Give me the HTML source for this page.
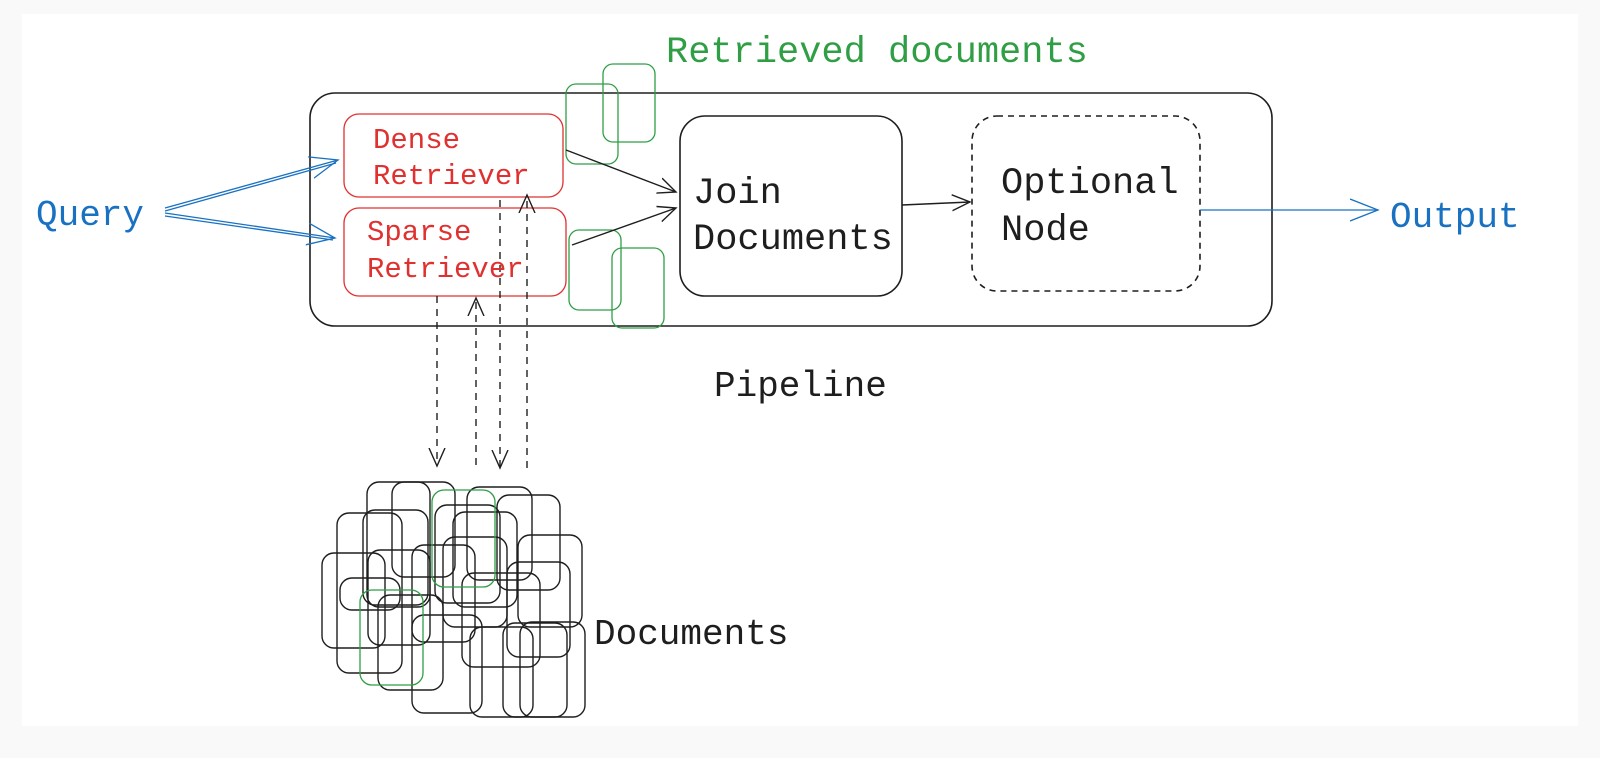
<!DOCTYPE html>
<html><head><style>
html,body{margin:0;padding:0;background:#f9f9f9;}
svg{display:block}
text{font-family:"Liberation Mono","DejaVu Sans Mono",monospace;}
</style></head><body>
<svg width="1600" height="758" viewBox="0 0 1600 758" xmlns="http://www.w3.org/2000/svg">
<rect x="22" y="14" width="1556" height="712" fill="#fff"/>
<defs>
<marker id="ab" viewBox="0 0 20 20" refX="18" refY="10" markerWidth="20" markerHeight="20" markerUnits="userSpaceOnUse" orient="auto"><path d="M0,2 L18,10 L0,18" fill="none" stroke="#1e1e1e" stroke-width="1.4"/></marker>
<marker id="abl" viewBox="0 0 30 30" refX="28" refY="15" markerWidth="30" markerHeight="30" markerUnits="userSpaceOnUse" orient="auto"><path d="M0,4 L28,15 L0,26" fill="none" stroke="#1971c2" stroke-width="1.3"/></marker>
</defs>
<g fill="none" stroke="#1e1e1e" stroke-width="1.6">
<rect x="310" y="93" width="962" height="233" rx="25"/>
<rect x="680" y="116" width="222" height="180" rx="25"/>
<rect x="972" y="116" width="228" height="175" rx="25" stroke-dasharray="6 5"/>
</g>
<g fill="none" stroke="#e03131" stroke-width="1.3">
<rect x="344" y="114" width="219" height="83" rx="15"/>
<rect x="344" y="208" width="222" height="88" rx="15"/>
</g>
<g fill="none" stroke="#2f9e44" stroke-width="1.3">
<rect x="566" y="84" width="52" height="80" rx="10"/>
<rect x="603" y="64" width="52" height="78" rx="10"/>
<rect x="569" y="230" width="52" height="80" rx="10"/>
<rect x="612" y="248" width="52" height="80" rx="10"/>
</g>
<g stroke="#1e1e1e" stroke-width="1.4" fill="none">
<line x1="566" y1="150" x2="676" y2="192" marker-end="url(#ab)"/>
<line x1="572" y1="245" x2="676" y2="208" marker-end="url(#ab)"/>
<line x1="902" y1="205" x2="970" y2="202" marker-end="url(#ab)"/>
<g stroke-dasharray="7 6">
<line x1="437" y1="296" x2="437" y2="466" marker-end="url(#ab)"/>
<line x1="476" y1="465" x2="476" y2="298" marker-end="url(#ab)"/>
<line x1="500" y1="200" x2="500" y2="468" marker-end="url(#ab)"/>
<line x1="527" y1="468" x2="527" y2="195" marker-end="url(#ab)"/>
</g>
</g>
<g stroke="#1971c2" stroke-width="1.3" fill="none">
<line x1="165" y1="208" x2="338" y2="160" marker-end="url(#abl)"/>
<line x1="165" y1="211" x2="336" y2="163"/>
<line x1="165" y1="213" x2="335" y2="238" marker-end="url(#abl)"/>
<line x1="165" y1="216" x2="333" y2="240"/>
<line x1="1200" y1="210" x2="1378" y2="210" marker-end="url(#abl)"/>
</g>
<g fill="none" stroke="#1e1e1e" stroke-width="1.4">
<rect x="367" y="482" width="63" height="125" rx="12"/>
<rect x="392" y="482" width="63" height="95" rx="12"/>
<rect x="337" y="513" width="65" height="160" rx="12"/>
<rect x="363" y="510" width="65" height="95" rx="12"/>
<rect x="322" y="553" width="63" height="95" rx="12"/>
<rect x="340" y="578" width="60" height="32" rx="12"/>
<rect x="368" y="550" width="62" height="95" rx="12"/>
<rect x="378" y="595" width="65" height="95" rx="12"/>
<rect x="412" y="545" width="63" height="97" rx="12"/>
<rect x="435" y="505" width="65" height="98" rx="12"/>
<rect x="453" y="512" width="64" height="95" rx="12"/>
<rect x="467" y="487" width="65" height="93" rx="12"/>
<rect x="497" y="495" width="63" height="95" rx="12"/>
<rect x="518" y="535" width="64" height="92" rx="12"/>
<rect x="507" y="562" width="63" height="95" rx="12"/>
<rect x="462" y="573" width="78" height="94" rx="12"/>
<rect x="412" y="615" width="70" height="98" rx="12"/>
<rect x="503" y="623" width="64" height="94" rx="12"/>
<rect x="520" y="622" width="65" height="95" rx="12"/>
<rect x="470" y="627" width="63" height="90" rx="12"/>
<rect x="443" y="537" width="64" height="90" rx="12"/>
</g>
<g fill="none" stroke="#2f9e44" stroke-width="1.3">
<rect x="432" y="490" width="63" height="97" rx="12"/>
<rect x="360" y="590" width="63" height="95" rx="12"/>
</g>
<g font-size="37" fill="#1e1e1e">
<text x="693" y="203">Join</text>
<text x="693" y="249">Documents</text>
<text x="1001" y="193">Optional</text>
<text x="1001" y="240">Node</text>
<text x="714" y="396" font-size="36">Pipeline</text>
<text x="594" y="644" font-size="36">Documents</text>
</g>
<text x="666" y="62" font-size="37" fill="#2f9e44">Retrieved documents</text>
<text x="36" y="225" font-size="36" fill="#1971c2">Query</text>
<text x="1390" y="227" font-size="36" fill="#1971c2">Output</text>
<g font-size="29" fill="#e03131">
<text x="373" y="148">Dense</text>
<text x="373" y="184">Retriever</text>
<text x="367" y="240">Sparse</text>
<text x="367" y="277">Retriever</text>
</g>
</svg>
</body></html>
